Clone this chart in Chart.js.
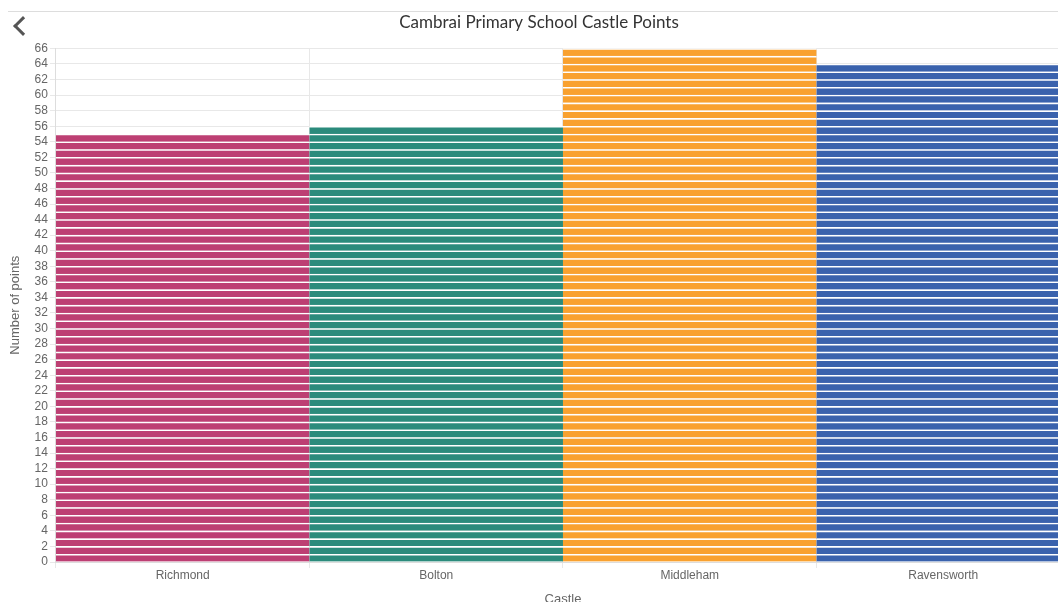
<!DOCTYPE html>
<html>
<head>
<meta charset="utf-8">
<script src="https://cdn.jsdelivr.net/npm/chart.js@4.4.0/dist/chart.umd.min.js"></script>
<style>
    body { margin: 0; overflow: hidden; background: #fff; width: 1058px; height: 602px; position: relative; }
    #topline { position: absolute; left: 8px; right: 0; top: 11px; border-top: 1px solid #ddd; }
    #back { position: absolute; left: 16px; top: 19px; width: 11px; height: 11px;
            border-left: 3px solid #555; border-bottom: 3px solid #555; transform: rotate(45deg); }
    #wrap { position: absolute; left: 0; top: 12px; }
</style>
</head>
<body>
<div id="topline"></div>
<div id="back"></div>
<div id="wrap"><canvas id="myChart" width="1070" height="595"></canvas></div>
<script>
    // chart data
    const castles = ["Richmond", "Bolton", "Middleham", "Ravensworth"];
    const points = [55, 56, 66, 64];
    const castleColours = ["#bd3f73", "#2b8b7c", "#f9a12f", "#3a62ad"];
    const yTicksMax = 66;

    // each point is its own stacked block, so the bar shows stripes
    function buildDatasets() {
        let datasets = [];
        let maxPoints = Math.max(...points);

        for (var i = 0; i < maxPoints; i++) {
            datasets.push({
                label: "Point " + (i + 1),
                data: points.map(p => (p > i ? 1 : null)),
                backgroundColor: castleColours,
                borderColor: "#ffffff",
                borderWidth: { top: 1.6, bottom: 0, left: 0, right: 0 },
                borderSkipped: false,
                categoryPercentage: 1.0,
                barPercentage: 1.0,
                stack: "points"
            });
        };

        return datasets;
    };

    let myChart = document.getElementById("myChart");

    let pointsChart = new Chart(myChart, {
        type: "bar",
        data: {
            labels: castles,
            datasets: buildDatasets()
        },
        options: {
            responsive: false,
            animation: false,
            devicePixelRatio: 1,
            layout: {
                padding: { left: 8, right: 0, top: 0, bottom: 0 }
            },
            plugins: {
                legend: { display: false },
                tooltip: { enabled: false },
                title: {
                    display: true,
                    text: "Cambrai Primary School Castle Points",
                    color: "#333",
                    font: { family: "Lato", size: 17, weight: "normal" },
                    padding: { top: 0, bottom: 16 }
                }
            },
            scales: {
                x: {
                    stacked: true,
                    grid: { offset: true, color: "#e8e8e8", tickLength: 6 },
                    border: { color: "#ddd" },
                    ticks: { color: "#666", font: { family: "Liberation Sans", size: 12 }, padding: 0 },
                    title: {
                        display: true,
                        text: "Castle",
                        color: "#666",
                        font: { family: "Liberation Sans", size: 13 },
                        padding: { top: 9, bottom: 0 }
                    }
                },
                y: {
                    stacked: true,
                    min: 0,
                    max: yTicksMax,
                    grid: { color: "#e8e8e8", tickLength: 6 },
                    border: { color: "#ddd" },
                    ticks: { stepSize: 2, autoSkip: false, color: "#666", font: { family: "Liberation Sans", size: 12 }, padding: 2 },
                    title: {
                        display: true,
                        text: "Number of points",
                        color: "#666",
                        font: { family: "Liberation Sans", size: 13 },
                        padding: { top: 0, bottom: 9 }
                    }
                }
            }
        }
    });
</script>
</body>
</html>
